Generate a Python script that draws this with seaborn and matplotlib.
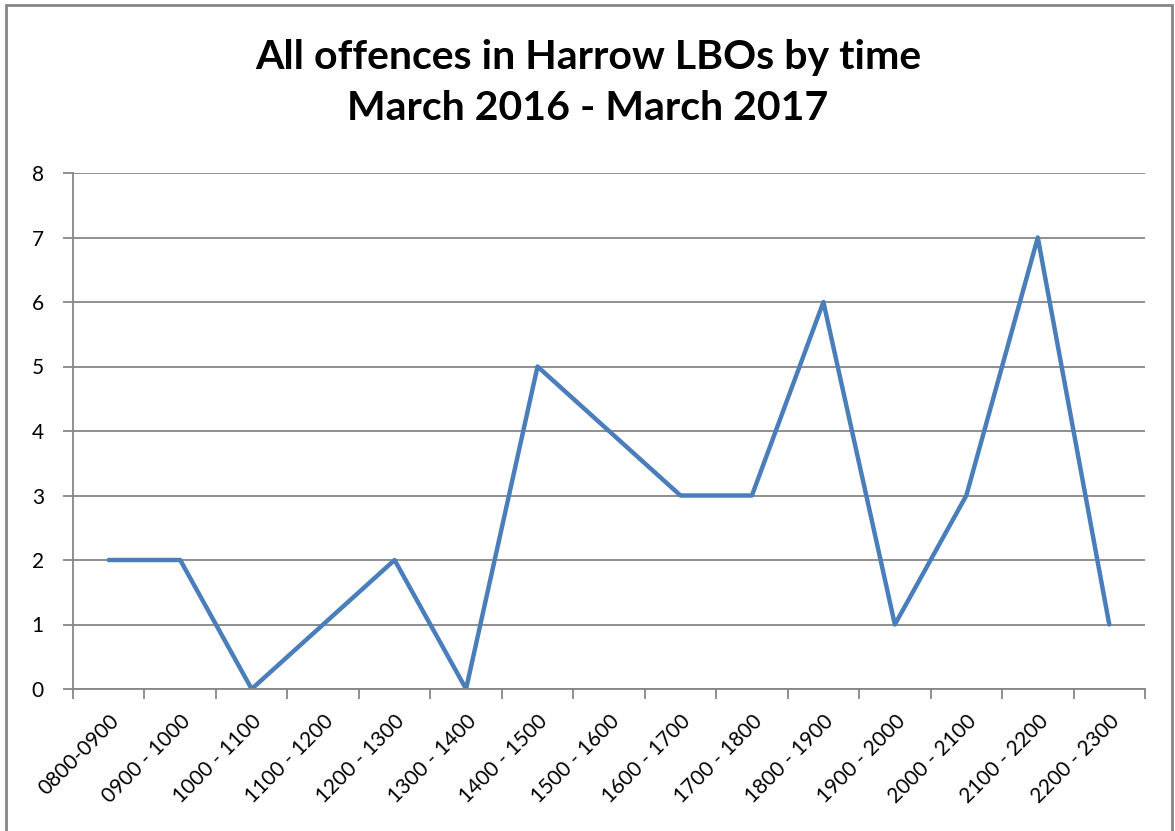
import matplotlib
matplotlib.use("Agg")
import matplotlib.pyplot as plt
from matplotlib.patches import Rectangle
from matplotlib.ticker import FixedLocator
import seaborn as sns
import pandas as pd

categories = ["0800-0900", "0900 - 1000", "1000 - 1100", "1100 - 1200", "1200 - 1300",
              "1300 - 1400", "1400 - 1500", "1500 - 1600", "1600 - 1700", "1700 - 1800",
              "1800 - 1900", "1900 - 2000", "2000 - 2100", "2100 - 2200", "2200 - 2300"]
offences = [2, 2, 0, 1, 2, 0, 5, 4, 3, 3, 6, 1, 3, 7, 1]
title = "All offences in Harrow LBOs by time\nMarch 2016 - March 2017"

sns.set_theme(style="white")
plt.rcParams['font.family'] = ['Lato', 'DejaVu Sans']

df = pd.DataFrame({"pos": list(range(len(categories))), "offences": offences})

fig = plt.figure(figsize=(11.75, 8.31), dpi=100)
fig.patch.set_facecolor("white")
ax = fig.add_axes([73/1175, 1-689/831, (1145-73)/1175, (689-173)/831])

sns.lineplot(data=df, x="pos", y="offences", ax=ax, color="#4A7EBB", linewidth=3.2)

ax.set_xlim(-0.5, len(categories) - 0.5)
ax.set_ylim(0, 8)
ax.set_yticks(range(0, 9))
ax.set_yticklabels([str(i) for i in range(0, 9)], fontsize=15, color="black")
ax.yaxis.grid(True, color="#868686", linewidth=1.3)
ax.set_axisbelow(True)

ax.set_xticks(range(len(categories)))
ax.set_xticklabels(categories, rotation=45, ha="right", rotation_mode="anchor",
                   fontsize=15, color="black")
ax.xaxis.set_minor_locator(FixedLocator([i - 0.5 for i in range(len(categories) + 1)]))
ax.tick_params(axis="x", which="major", length=0, pad=16)
ax.tick_params(axis="x", which="minor", length=7, width=1.3, color="#868686", bottom=True)
ax.tick_params(axis="y", which="major", length=7, width=1.3, color="#868686", left=True, pad=14)

ax.set_xlabel("")
ax.set_ylabel("")
for s in ["top", "right"]:
    ax.spines[s].set_visible(False)
for s in ["left", "bottom"]:
    ax.spines[s].set_color("#868686")
    ax.spines[s].set_linewidth(1.3)

fig.text(588/1175, 1-83/831, title, ha="center", va="center", fontsize=29.5,
         fontweight="bold", linespacing=1.5, color="black")

fig.patches.append(Rectangle((6/1175, -0.05), (1172-6)/1175, 1.05 - 5/831,
                             transform=fig.transFigure, fill=False,
                             edgecolor="#868686", linewidth=2, zorder=10))

fig.savefig("out.png", dpi=100, facecolor="white")
